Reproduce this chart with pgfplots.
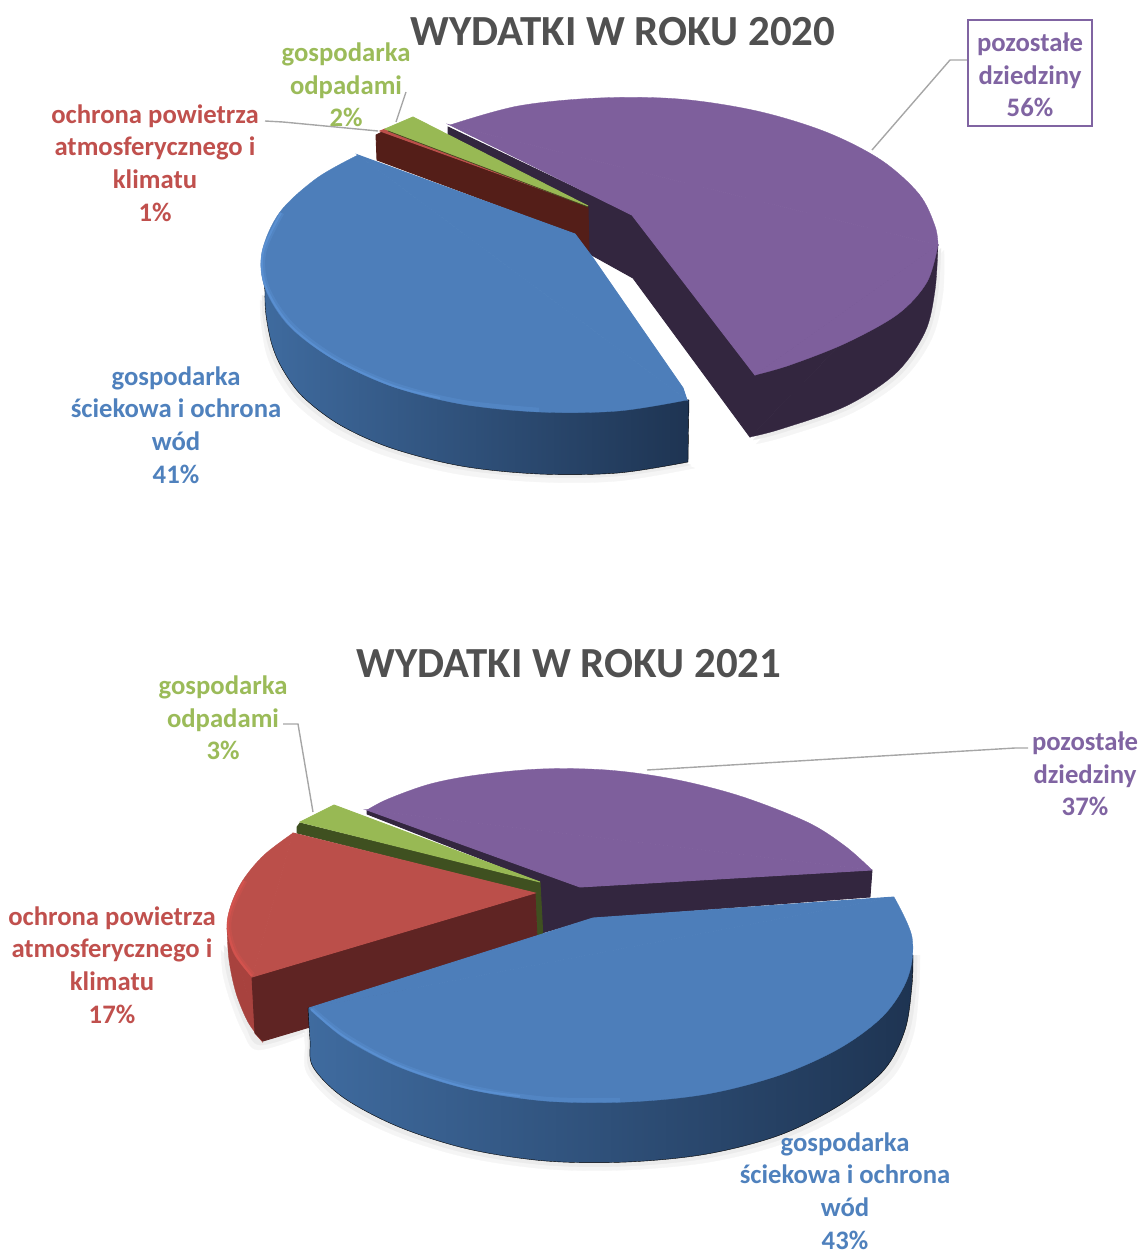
\documentclass[border=0pt]{standalone}
\usepackage{fontspec}
\setmainfont{Carlito}
\usepackage{pgfplots}
\pgfplotsset{compat=1.18}
\definecolor{lblue}{HTML}{4F81BD}
\definecolor{lred}{HTML}{C0504D}
\definecolor{lgreen}{HTML}{9BBB59}
\definecolor{lpurple}{HTML}{8064A2}
\definecolor{tblue}{HTML}{4D7EBA}
\definecolor{rimblue}{HTML}{5C93D6}
\definecolor{tpurple}{HTML}{7E5F9C}
\definecolor{dpurple}{HTML}{33263F}
\definecolor{tred}{HTML}{BB4F4A}
\definecolor{rimred}{HTML}{D9544F}
\definecolor{sred}{HTML}{A8423E}
\definecolor{dred}{HTML}{5F2423}
\definecolor{dred1}{HTML}{541E18}
\definecolor{tgreen}{HTML}{98B954}
\definecolor{dgreen}{HTML}{3F5020}
\definecolor{title}{HTML}{505050}
\definecolor{lead}{HTML}{A6A6A6}
\definecolor{shad}{HTML}{F5F5F5}
\definecolor{shadb}{HTML}{EBEBEB}
\definecolor{sbl}{HTML}{3F6B9F}
\definecolor{sbm}{HTML}{30527E}
\definecolor{sbr}{HTML}{1E3452}
\definecolor{sbm2}{HTML}{2A4A70}
\pgfplotsset{
  f/.style={fill=#1,draw=#1,line width=0.9pt},
  a/.style={fill=#1,draw=#1,line width=0.3pt,smooth,tension=0.55},
  leader/.style={draw=lead,line width=1.4pt},
}
\newcommand{\lab}[5]{\node[text=#1,align=center,font=\fontsize{26.7}{32.6}\selectfont\bfseries,inner sep=0pt] at (axis cs:#2,#3) {#4};}
\begin{document}
\begin{tikzpicture}
\useasboundingbox (0,0) rectangle (1140pt,1253pt);
\begin{axis}[at={(0,0)},anchor=south west,scale only axis,width=1140pt,height=1253pt,
  xmin=0,xmax=1140,ymin=0,ymax=1253,y dir=reverse,axis lines=none,clip=false]
%% ---------- 2020 ----------
% shadow
\addplot[a=shad] coordinates {(260,300) (261,322) (266,352) (277,378) (297,405) (334,433) (386,456) (457,474) (539,482) (618,481) (695,468)};
\addplot[a=shad] coordinates {(756,444) (787,436) (852,413) (903,379) (932,338) (943,293) (944,250)};
\addplot[a=shadb] coordinates {(262,295) (263,318) (269,348) (280,373) (300,400) (337,428) (388,451) (459,469) (539,477) (618,476) (691,465)};
\addplot[a=shadb] coordinates {(753,440) (784,432) (849,409) (899,376) (928,335) (938,292) (941,248)};
% purple
\addplot[f=dpurple] coordinates {(448,127) (448,134) (588,207) (588,253) (633,278) (750,437) (938,245) (632,215)} --cycle;
\addplot[a=dpurple] coordinates {(750,437) (781,429) (846,406) (896,373) (925,332) (935,290) (938,245)};
\addplot[f=tpurple] coordinates {(450,125) (938,245) (755,375) (632,215)} --cycle;
\addplot[a=tpurple] coordinates {(450,125) (518,106) (598,98) (679,99) (757,111) (826,132) (881,160) (919,194) (935,226) (938,245)};
\addplot[a=tpurple] coordinates {(938,245) (927,282) (898,314) (846,343) (790,365) (755,375)};
% red and green
\addplot[f=dred1] coordinates {(376,135) (382,132) (588,207) (589,252) (575,234) (377,160)} --cycle;
\addplot[f=tred] coordinates {(380,131) (385,129) (588,206)} --cycle;
\addplot[f=tgreen] coordinates {(385,129) (413,117) (588,206)} --cycle;
\addplot[draw=dgreen,line width=0.7pt] coordinates {(388,131) (588,207)};
% blue
\addplot[smooth,tension=0.55,left color=sbl,middle color=sbm,right color=sbr] coordinates {(689,400) (560,380) (400,330) (300,285) (267,280) (265,292) (266,315) (272,345) (283,370) (303,397) (340,425) (391,448) (461,466) (539,474) (618,473) (688,462)} --cycle;
\addplot[f=tblue] coordinates {(358,155) (687,400) (683,388) (593,258) (575,234)} --cycle;
\addplot[a=tblue] coordinates {(358,155) (317,178) (280,212) (262,252) (265,288) (289,326) (333,359) (391,386) (461,404) (539,412) (618,411) (687,400)};
\addplot[draw=rimblue,line width=4.5pt,smooth,tension=0.55,opacity=0.35] coordinates {(282,213) (264,252) (267,287) (291,324) (334,357) (392,384) (462,402) (539,410)};
\addplot[draw=rimblue,line width=2pt,smooth,tension=0.55,opacity=0.75] coordinates {(281,213) (263,252) (266,287) (290,325) (333,358) (391,385) (440,398)};
% leaders
\addplot[leader] coordinates {(265,121) (283,122) (378,131)};
\addplot[leader] coordinates {(396,122) (406,92)};
\addplot[leader] coordinates {(872,150) (950,60) (967,60)};
\addplot[draw=lpurple,line width=1.4pt] coordinates {(968,20) (1092,20) (1092,126) (968,126)} --cycle;
%% ---------- 2021 ----------
\addplot[a=shad] coordinates {(221,950) (223,975) (231,1003) (243,1032) (258,1050) (305,1036)};
\addplot[a=shad] coordinates {(303,1020) (305,1045) (307,1073) (338,1106) (394,1135) (465,1157) (546,1169) (627,1170) (710,1162) (785,1143) (846,1113) (892,1078) (913,1036) (919,988) (920,955)};
\addplot[a=shadb] coordinates {(224,945) (226,970) (234,998) (246,1027) (260,1045) (305,1032)};
\addplot[a=shadb] coordinates {(306,1015) (308,1042) (310,1070) (341,1102) (396,1131) (466,1153) (546,1165) (627,1166) (708,1158) (782,1139) (843,1109) (888,1074) (909,1033) (916,987) (917,955)};
% purple
\addplot[f=dpurple] coordinates {(367,810) (367,814) (540,882) (542,933) (593,918) (870,897) (872,870) (580,887)} --cycle;
\addplot[f=tpurple] coordinates {(367,810) (872,870) (580,887)} --cycle;
\addplot[a=tpurple] coordinates {(367,810) (388,799) (430,784) (477,775) (540,769) (607,770) (673,779) (740,796) (807,822) (845,846) (872,870)};
% green
\addplot[f=dgreen] coordinates {(297,827) (300,823) (540,882) (543,938) (537,938) (535,893) (297,833)} --cycle;
\addplot[f=tgreen] coordinates {(300,822) (334,805) (540,882)} --cycle;
% red
\addplot[f=sred] coordinates {(227,928) (252,977) (255,1033) (262,1041)} --cycle;
\addplot[a=sred] coordinates {(227,928) (229,960) (236,993) (248,1022) (262,1041)};
\addplot[f=dred] coordinates {(252,977) (255,1033) (263,1041) (310,1027) (537,938) (535,893)} --cycle;
\addplot[f=tred] coordinates {(293,833) (252,977) (535,893)} --cycle;
\addplot[a=tred] coordinates {(293,833) (264,855) (243,880) (231,905) (227,928) (234,954) (252,977)};
\addplot[draw=rimred,line width=4.5pt,smooth,tension=0.55,opacity=0.35] coordinates {(245,881) (233,906) (229,928) (236,953) (253,975)};
\addplot[draw=rimred,line width=2pt,smooth,tension=0.55,opacity=0.75] coordinates {(244,881) (232,906) (228,928) (235,953) (252,976)};
% blue
\addplot[smooth,tension=0.55,left color=sbl,middle color=sbm2,right color=sbr] coordinates {(308,1008) (310,1040) (313,1067) (344,1098) (399,1127) (468,1149) (546,1161) (627,1162) (707,1154) (780,1135) (840,1105) (884,1070) (905,1030) (912,985) (913,955)} --cycle;
\addplot[f=tblue] coordinates {(309,1008) (593,918) (894,897)} --cycle;
\addplot[a=tblue] coordinates {(894,897) (912,937) (908,977) (884,1015) (840,1048) (780,1075) (707,1094) (627,1102) (546,1101) (468,1089) (399,1067) (344,1038) (309,1008)};
\addplot[draw=rimblue,line width=4.5pt,smooth,tension=0.55,opacity=0.35] coordinates {(312,1009) (346,1036) (400,1065) (469,1087) (546,1099) (620,1100)};
\addplot[draw=rimblue,line width=2pt,smooth,tension=0.55,opacity=0.75] coordinates {(311,1009) (345,1037) (400,1066) (468,1088) (520,1096)};
% leaders
\addplot[leader] coordinates {(283,724) (298,724) (313,812)};
\addplot[leader] coordinates {(647,770) (1015,748) (1028,748)};
%% ---------- text ----------
\node[text=title,font=\fontsize{42.9}{44}\selectfont\bfseries,inner sep=0pt] at (axis cs:623,32) {WYDATKI W ROKU 2020};
\node[text=title,font=\fontsize{42.9}{44}\selectfont\bfseries,inner sep=0pt] at (axis cs:569,664) {WYDATKI W ROKU 2021};
\lab{lgreen}{346}{85}{gospodarka\\odpadami\\2\%}{}
\lab{lred}{155}{163}{ochrona powietrza\\atmosferycznego i\\klimatu\\1\%}{}
\lab{lblue}{176}{425}{gospodarka\\ściekowa i ochrona\\wód\\41\%}{}
\lab{lpurple}{1030}{75}{pozostałe\\dziedziny\\56\%}{}
\lab{lgreen}{223}{718}{gospodarka\\odpadami\\3\%}{}
\lab{lpurple}{1085}{774}{pozostałe\\dziedziny\\37\%}{}
\lab{lred}{112}{965}{ochrona powietrza\\atmosferycznego i\\klimatu\\17\%}{}
\lab{lblue}{845}{1191}{gospodarka\\ściekowa i ochrona\\wód\\43\%}{}
\end{axis}
\end{tikzpicture}
\end{document}
